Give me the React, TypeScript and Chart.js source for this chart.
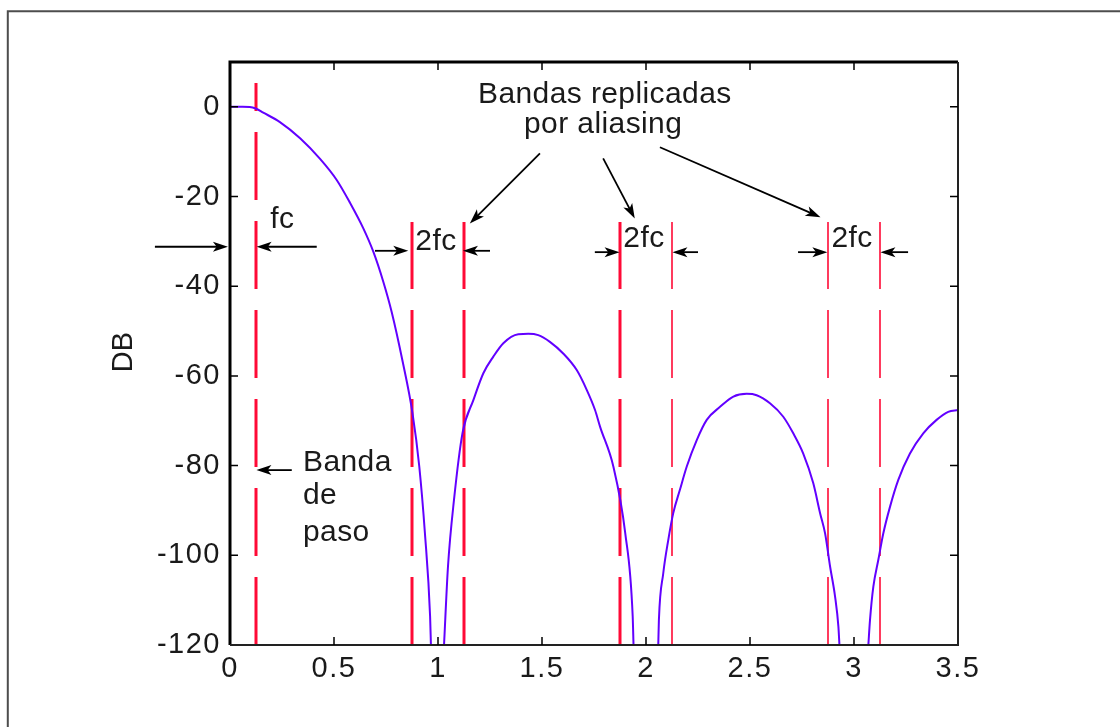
import React, { useEffect, useRef } from 'react';
import { Chart, registerables } from 'chart.js';

Chart.register(...registerables);

// ---- Data ----
const curveX = [
  0, 0.06, 0.12, 0.16, 0.24, 0.337, 0.433, 0.513, 0.577, 0.641, 0.689, 0.737, 0.777, 0.83, 0.877, 0.91, 0.937, 0.962, 0.966,
  1.0,
  1.029, 1.048, 1.077, 1.118, 1.17, 1.218, 1.266, 1.314, 1.386, 1.434, 1.482, 1.538, 1.602, 1.667, 1.715, 1.755, 1.779, 1.843, 1.9, 1.936, 1.94,
  2.0,
  2.059, 2.062, 2.083, 2.107, 2.131, 2.163, 2.196, 2.244, 2.292, 2.356, 2.42, 2.484, 2.532, 2.596, 2.66, 2.708, 2.756, 2.804, 2.837, 2.861, 2.885, 2.909, 2.925, 2.93,
  3.0,
  3.069, 3.077, 3.093, 3.117, 3.141, 3.173, 3.213, 3.269, 3.333, 3.397, 3.453, 3.5,
];
const curveY: (number | null)[] = [
  0, 0, -0.3, -1.3, -3.4, -7.0, -11.6, -16.3, -21.4, -27.1, -32.3, -39.0, -45.7, -56.8, -68.2, -80.2, -95.0, -113.6, -120,
  null,
  -120, -102.5, -87.6, -72.7, -65.4, -59.4, -55.7, -52.7, -50.7, -50.6, -50.9, -52.4, -55.0, -58.7, -63.1, -67.6, -71.3, -80.2, -95.0, -113.6, -120,
  null,
  -120, -114.4, -104.0, -96.6, -90.6, -85.4, -80.2, -74.3, -69.8, -66.9, -64.6, -64.0, -64.3, -66.1, -69.1, -72.8, -77.3, -83.9, -90.6, -95.1, -102.5, -109.2, -115.9, -120,
  null,
  -120, -114.4, -107.0, -101.0, -95.1, -89.2, -83.2, -77.3, -72.8, -69.8, -68.0, -67.6,
];

const bandLinesX = [0.125, 0.875, 1.125, 1.875, 2.125, 2.875, 3.125];
const bandLinesTop = [5.3, -25.7, -25.7, -25.7, -25.7, -25.7, -25.7];
const bandLinesBottom = [-120, -120, -120, -120, -120, -120, -120];
const bandLinesThick = [true, true, true, true, false, false, false];

const xTicks = [0, 0.5, 1, 1.5, 2, 2.5, 3, 3.5];
const xTickLabels = ['0', '0.5', '1', '1.5', '2', '2.5', '3', '3.5'];
const yTicks = [-120, -100, -80, -60, -40, -20, 0];
const yTickLabels = ['-120', '-100', '-80', '-60', '-40', '-20', '0'];
const yAxisTitle = 'DB';

// annotation texts (data coordinates)
const noteText = ['fc', '2fc', '2fc', '2fc', 'Banda', 'de', 'paso', 'Bandas replicadas', 'por aliasing'];
const noteX = [0.251, 0.99, 1.99, 2.991, 0.351, 0.351, 0.351, 1.802, 1.794];
const noteY = [-25.1, -30.0, -29.4, -29.4, -79.3, -86.8, -94.9, 2.8, -4.0];
const noteAlign: CanvasTextAlign[] = ['center', 'center', 'center', 'center', 'left', 'left', 'left', 'center', 'center'];

// arrows: tail -> tip (data coordinates)
const arrowX1 = [-0.361, 0.417, 0.697, 1.25, 1.754, 2.25, 2.731, 3.26, 0.297, 1.49, 1.794, 2.067];
const arrowY1 = [-31.2, -31.2, -32.1, -32.1, -32.4, -32.4, -32.4, -32.4, -81.0, -10.4, -11.5, -9.0];
const arrowX2 = [-0.01, 0.128, 0.857, 1.12, 1.873, 2.127, 2.872, 3.127, 0.127, 1.153, 1.946, 2.839];
const arrowY2 = [-31.2, -31.2, -32.1, -32.1, -32.4, -32.4, -32.4, -32.4, -81.0, -26.0, -24.9, -24.6];

const FONT = '"Liberation Sans", Arial, Helvetica, sans-serif';
const CURVE_COLOR = '#6200ff';
const RED = '#ff0a36';

const setSpacing = (ctx: any, v: string) => {
  try {
    ctx.letterSpacing = v;
  } catch (e) {
    /* ignore */
  }
};

const overlayPlugin = {
  id: 'overlay',
  beforeDraw(chart: any) {
    const ctx = chart.ctx;
    ctx.save();
    ctx.fillStyle = '#ffffff';
    ctx.fillRect(0, 0, chart.width, chart.height);
    ctx.restore();
    // slightly wider glyph spacing for tick labels, as in the reference rendering
    setSpacing(ctx, '1.5px');
  },
  afterDraw(chart: any) {
    const ctx: CanvasRenderingContext2D = chart.ctx;
    const a = chart.chartArea;
    const xs = chart.scales.x;
    const ys = chart.scales.y;
    ctx.save();
    setSpacing(ctx, '0px');

    // outer frame (left and top edges visible)
    ctx.strokeStyle = '#4d4d4d';
    ctx.lineWidth = 2;
    ctx.beginPath();
    ctx.moveTo(7.8, chart.height);
    ctx.lineTo(7.8, 11.2);
    ctx.lineTo(chart.width, 11.2);
    ctx.stroke();

    // axes box
    ctx.strokeStyle = '#000';
    ctx.lineWidth = 3;
    ctx.beginPath();
    ctx.moveTo(a.left, a.bottom);
    ctx.lineTo(a.left, a.top);
    ctx.lineTo(a.right, a.top);
    ctx.stroke();
    ctx.strokeStyle = '#222';
    ctx.lineWidth = 2;
    ctx.beginPath();
    ctx.moveTo(a.right, a.top);
    ctx.lineTo(a.right, a.bottom);
    ctx.lineTo(a.left, a.bottom);
    ctx.stroke();

    // inside ticks
    const tl = 8;
    ctx.strokeStyle = '#000';
    ctx.lineWidth = 1.5;
    ctx.beginPath();
    xTicks.forEach((v) => {
      const px = xs.getPixelForValue(v);
      if (px <= a.left + 1 || px >= a.right - 1) return;
      ctx.moveTo(px, a.bottom);
      ctx.lineTo(px, a.bottom - tl);
      ctx.moveTo(px, a.top);
      ctx.lineTo(px, a.top + tl);
    });
    yTicks.forEach((v) => {
      const py = ys.getPixelForValue(v);
      if (py >= a.bottom - 1 || py <= a.top + 1) return;
      ctx.moveTo(a.left, py);
      ctx.lineTo(a.left + tl, py);
      ctx.moveTo(a.right, py);
      ctx.lineTo(a.right - tl, py);
    });
    ctx.stroke();

    // y-axis title
    ctx.fillStyle = '#1a1a1a';
    ctx.font = `29px ${FONT}`;
    ctx.textAlign = 'center';
    ctx.textBaseline = 'middle';
    ctx.save();
    ctx.translate(124, 352);
    ctx.rotate(-Math.PI / 2);
    ctx.fillText(yAxisTitle, 0, 0);
    ctx.restore();

    // annotation texts
    setSpacing(ctx, '0.4px');
    ctx.font = `30px ${FONT}`;
    ctx.fillStyle = '#1a1a1a';
    ctx.textBaseline = 'middle';
    noteText.forEach((t, i) => {
      ctx.textAlign = noteAlign[i];
      ctx.fillText(t, xs.getPixelForValue(noteX[i]), ys.getPixelForValue(noteY[i]));
    });

    // arrows
    ctx.strokeStyle = '#000';
    ctx.fillStyle = '#000';
    ctx.lineWidth = 1.8;
    arrowX1.forEach((_, i) => {
      const x1 = xs.getPixelForValue(arrowX1[i]);
      const y1 = ys.getPixelForValue(arrowY1[i]);
      const x2 = xs.getPixelForValue(arrowX2[i]);
      const y2 = ys.getPixelForValue(arrowY2[i]);
      const ang = Math.atan2(y2 - y1, x2 - x1);
      const L = 15;
      const W = 5;
      ctx.beginPath();
      ctx.moveTo(x1, y1);
      ctx.lineTo(x2 - Math.cos(ang) * L * 0.6, y2 - Math.sin(ang) * L * 0.6);
      ctx.stroke();
      const bx = x2 - Math.cos(ang) * L;
      const by = y2 - Math.sin(ang) * L;
      ctx.beginPath();
      ctx.moveTo(x2, y2);
      ctx.lineTo(bx + Math.sin(ang) * W, by - Math.cos(ang) * W);
      ctx.lineTo(x2 - Math.cos(ang) * L * 0.75, y2 - Math.sin(ang) * L * 0.75);
      ctx.lineTo(bx - Math.sin(ang) * W, by + Math.cos(ang) * W);
      ctx.closePath();
      ctx.fill();
    });

    ctx.restore();
  },
};

export default function App() {
  const ref = useRef<HTMLCanvasElement | null>(null);

  useEffect(() => {
    if (!ref.current) return;
    const curveData = curveX.map((x, i) => ({ x, y: curveY[i] }));
    const bandSets = bandLinesX.map((x, i) => ({
      label: `band${i}`,
      data: [
        { x, y: bandLinesBottom[i] },
        { x, y: bandLinesTop[i] },
      ],
      showLine: true,
      borderColor: RED,
      borderWidth: bandLinesThick[i] ? 3 : 1.6,
      borderDash: [68, 21],
      pointRadius: 0,
      fill: false,
    }));

    const chart = new Chart(ref.current, {
      type: 'scatter',
      data: {
        datasets: [
          {
            label: 'respuesta',
            data: curveData as any,
            showLine: true,
            borderColor: CURVE_COLOR,
            borderWidth: 2,
            pointRadius: 0,
            spanGaps: false,
            cubicInterpolationMode: 'monotone',
            fill: false,
          },
          ...bandSets,
        ] as any,
      },
      options: {
        animation: false,
        responsive: false,
        devicePixelRatio: 1,
        layout: { padding: { left: 0, top: 62, right: 162, bottom: 0 } },
        plugins: { legend: { display: false }, tooltip: { enabled: false } },
        scales: {
          x: {
            type: 'linear',
            min: 0,
            max: 3.5,
            grid: { display: false, drawTicks: false },
            border: { display: false },
            afterBuildTicks: (s: any) => {
              s.ticks = xTicks.map((v) => ({ value: v }));
            },
            afterFit: (s: any) => {
              s.height = 82;
            },
            ticks: {
              autoSkip: false,
              maxRotation: 0,
              padding: 7,
              color: '#1a1a1a',
              font: { family: FONT, size: 29 },
              callback: (_v: any, i: number) => xTickLabels[i],
            },
          },
          y: {
            type: 'linear',
            min: -120,
            max: 10,
            grid: { display: false, drawTicks: false },
            border: { display: false },
            afterBuildTicks: (s: any) => {
              s.ticks = yTicks.map((v) => ({ value: v }));
            },
            afterFit: (s: any) => {
              s.width = 230;
            },
            ticks: {
              autoSkip: false,
              padding: 9,
              color: '#1a1a1a',
              font: { family: FONT, size: 29 },
              callback: (_v: any, i: number) => yTickLabels[i],
            },
          },
        },
      } as any,
      plugins: [overlayPlugin],
    });
    return () => chart.destroy();
  }, []);

  return (
    <div style={{ position: 'absolute', left: 0, top: 0, width: 1120, height: 727, background: '#fff' }}>
      <canvas ref={ref} width={1120} height={727} style={{ display: 'block', width: 1120, height: 727 }} />
    </div>
  );
}
